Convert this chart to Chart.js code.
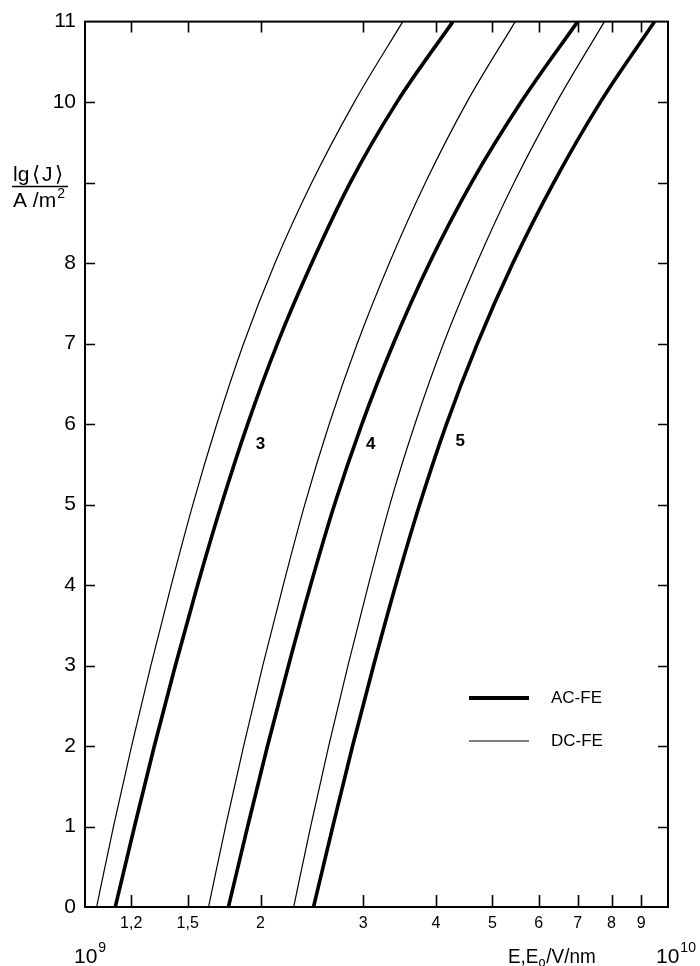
<!DOCTYPE html>
<html>
<head>
<meta charset="utf-8">
<script src="https://cdn.jsdelivr.net/npm/chart.js@4/dist/chart.umd.min.js"></script>
<style>
  html, body { margin: 0; padding: 0; background: #fff; }
  canvas { display: block; }
</style>
</head>
<body>
<canvas id="fe-chart" width="700" height="966"></canvas>
<script>
// lg<J> levels at which the curves were read
const levels = [0, 1, 2, 3, 4, 5, 6, 7, 8, 9, 10, 11];

// field strength E (V/m) of each curve at the levels above
const dc3 = [1.047e9, 1.119e9, 1.202e9, 1.297e9, 1.406e9, 1.531e9, 1.683e9, 1.871e9, 2.118e9, 2.449e9, 2.897e9, 3.508e9];
const ac3 = [1.127e9, 1.216e9, 1.315e9, 1.429e9, 1.560e9, 1.714e9, 1.901e9, 2.138e9, 2.449e9, 2.851e9, 3.428e9, 4.276e9];
const dc4 = [1.629e9, 1.742e9, 1.871e9, 2.018e9, 2.188e9, 2.382e9, 2.624e9, 2.931e9, 3.327e9, 3.837e9, 4.519e9, 5.470e9];
const ac4 = [1.762e9, 1.901e9, 2.056e9, 2.234e9, 2.438e9, 2.679e9, 2.985e9, 3.381e9, 3.899e9, 4.603e9, 5.598e9, 6.998e9];
const dc5 = [2.280e9, 2.438e9, 2.618e9, 2.825e9, 3.062e9, 3.334e9, 3.681e9, 4.121e9, 4.699e9, 5.445e9, 6.442e9, 7.780e9];
const ac5 = [2.466e9, 2.661e9, 2.877e9, 3.126e9, 3.412e9, 3.750e9, 4.169e9, 4.710e9, 5.420e9, 6.368e9, 7.656e9, 9.484e9];

// axis ticks
const xTicks = [1.2e9, 1.5e9, 2e9, 3e9, 4e9, 5e9, 6e9, 7e9, 8e9, 9e9];
const xTickLabels = ["1,2", "1,5", "2", "3", "4", "5", "6", "7", "8", "9"];
const yTicks = [0, 1, 2, 3, 4, 5, 6, 7, 8, 9, 10, 11];

// curve labels: text, E, lg<J>
const curveLabels = [["3", 2.0e9, 5.75], ["4", 3.09e9, 5.75], ["5", 4.4e9, 5.78]];

const FONT = '"Liberation Sans", Arial, sans-serif';

const toPoints = (arr) => arr.map((x, i) => ({ x: x, y: levels[i] }));

const thin = { borderColor: "#000", borderWidth: 1.2, pointRadius: 0, cubicInterpolationMode: "monotone", fill: false };
const thick = { borderColor: "#000", borderWidth: 3.6, pointRadius: 0, cubicInterpolationMode: "monotone", fill: false };

const frame = {
  id: "frame",
  afterDraw(chart) {
    const ctx = chart.ctx;
    const a = chart.chartArea;
    const xs = chart.scales.x;
    const ys = chart.scales.y;
    ctx.save();
    ctx.strokeStyle = "#000";
    ctx.fillStyle = "#000";

    // box
    ctx.lineWidth = 2;
    ctx.strokeRect(a.left, a.top, a.right - a.left, a.bottom - a.top);

    // inside ticks
    ctx.lineWidth = 1.6;
    ctx.beginPath();
    xTicks.forEach((v) => {
      const px = Math.round(xs.getPixelForValue(v)) + 0.5;
      ctx.moveTo(px, a.bottom); ctx.lineTo(px, a.bottom - 12);
      ctx.moveTo(px, a.top); ctx.lineTo(px, a.top + 11);
    });
    yTicks.forEach((v) => {
      if (v === 0 || v === 11) return;
      const py = Math.round(ys.getPixelForValue(v)) + 0.5;
      ctx.moveTo(a.left, py); ctx.lineTo(a.left + 10, py);
      ctx.moveTo(a.right, py); ctx.lineTo(a.right - 10, py);
    });
    ctx.stroke();

    ctx.textAlign = "left";
    ctx.textBaseline = "alphabetic";

    // 10^9 and 10^10 under the axis ends
    const power = (x, exp) => {
      ctx.font = "21px " + FONT;
      ctx.fillText("10", x, 963);
      const w = ctx.measureText("10").width;
      ctx.font = "14px " + FONT;
      ctx.fillText(exp, x + w + 1, 952);
    };
    power(a.left - 11, "9");
    power(a.right - 12, "10");

    // x title  E,Eo/V/nm, a little narrower than the sans font
    ctx.save();
    ctx.translate(508, 963);
    ctx.scale(0.9, 1);
    let tx = 0;
    ctx.font = "21px " + FONT;
    ctx.fillText("E,E", tx, 0);
    tx += ctx.measureText("E,E").width;
    ctx.font = "14px " + FONT;
    ctx.fillText("o", tx, 4);
    tx += ctx.measureText("o").width + 1;
    ctx.font = "21px " + FONT;
    ctx.fillText("/V/nm", tx, 0);
    ctx.restore();

    // y title as a fraction
    ctx.font = "21px " + FONT;
    ctx.fillText("lg", 13, 181);
    ctx.fillText("\u27E8", 32, 181);
    ctx.fillText("J", 42, 181);
    ctx.fillText("\u27E9", 55, 181);
    ctx.lineWidth = 1.3;
    ctx.beginPath();
    ctx.moveTo(12, 186.5); ctx.lineTo(68, 186.5);
    ctx.stroke();
    ctx.fillText("A /m", 13, 207);
    const mw = ctx.measureText("A /m").width;
    ctx.font = "14px " + FONT;
    ctx.fillText("2", 13 + mw + 1, 198);

    // curve labels
    ctx.font = "bold 17px " + FONT;
    ctx.textAlign = "center";
    ctx.textBaseline = "middle";
    curveLabels.forEach(([t, x, y]) => {
      ctx.fillText(t, xs.getPixelForValue(x), ys.getPixelForValue(y));
    });

    // legend
    ctx.textAlign = "left";
    ctx.font = "17px " + FONT;
    ctx.lineWidth = 4;
    ctx.beginPath(); ctx.moveTo(469, 698); ctx.lineTo(529, 698); ctx.stroke();
    ctx.fillText("AC-FE", 551, 698);
    ctx.lineWidth = 1.2;
    ctx.beginPath(); ctx.moveTo(469, 741); ctx.lineTo(529, 741); ctx.stroke();
    ctx.fillText("DC-FE", 551, 741);

    ctx.restore();
  }
};

new Chart(document.getElementById("fe-chart"), {
  type: "line",
  data: {
    datasets: [
      { ...thin, label: "DC-FE 3", data: toPoints(dc3) },
      { ...thick, label: "AC-FE 3", data: toPoints(ac3) },
      { ...thin, label: "DC-FE 4", data: toPoints(dc4) },
      { ...thick, label: "AC-FE 4", data: toPoints(ac4) },
      { ...thin, label: "DC-FE 5", data: toPoints(dc5) },
      { ...thick, label: "AC-FE 5", data: toPoints(ac5) },
    ],
  },
  options: {
    responsive: false,
    animation: false,
    devicePixelRatio: 1,
    layout: { padding: { top: 15, right: 32, left: 0, bottom: 0 } },
    plugins: { legend: { display: false }, tooltip: { enabled: false } },
    scales: {
      x: {
        type: "logarithmic",
        min: 1e9,
        max: 1e10,
        grid: { display: false, drawTicks: false },
        border: { display: false },
        afterBuildTicks: (s) => { s.ticks = xTicks.map((v) => ({ value: v })); },
        afterFit: (s) => { s.height = 59; },
        ticks: {
          autoSkip: false,
          maxRotation: 0,
          padding: 7,
          color: "#000",
          font: { family: FONT, size: 16 },
          callback: (v) => xTickLabels[xTicks.indexOf(v)] ?? "",
        },
      },
      y: {
        type: "linear",
        min: 0,
        max: 11,
        grid: { display: false, drawTicks: false },
        border: { display: false },
        afterFit: (s) => { s.width = 85; },
        ticks: {
          stepSize: 1,
          padding: 9,
          color: "#000",
          font: { family: FONT, size: 21 },
          // the 9 is left out: the axis title sits there
          callback: (v) => (v === 9 ? "" : String(v)),
        },
      },
    },
  },
  plugins: [frame],
});
</script>
</body>
</html>
